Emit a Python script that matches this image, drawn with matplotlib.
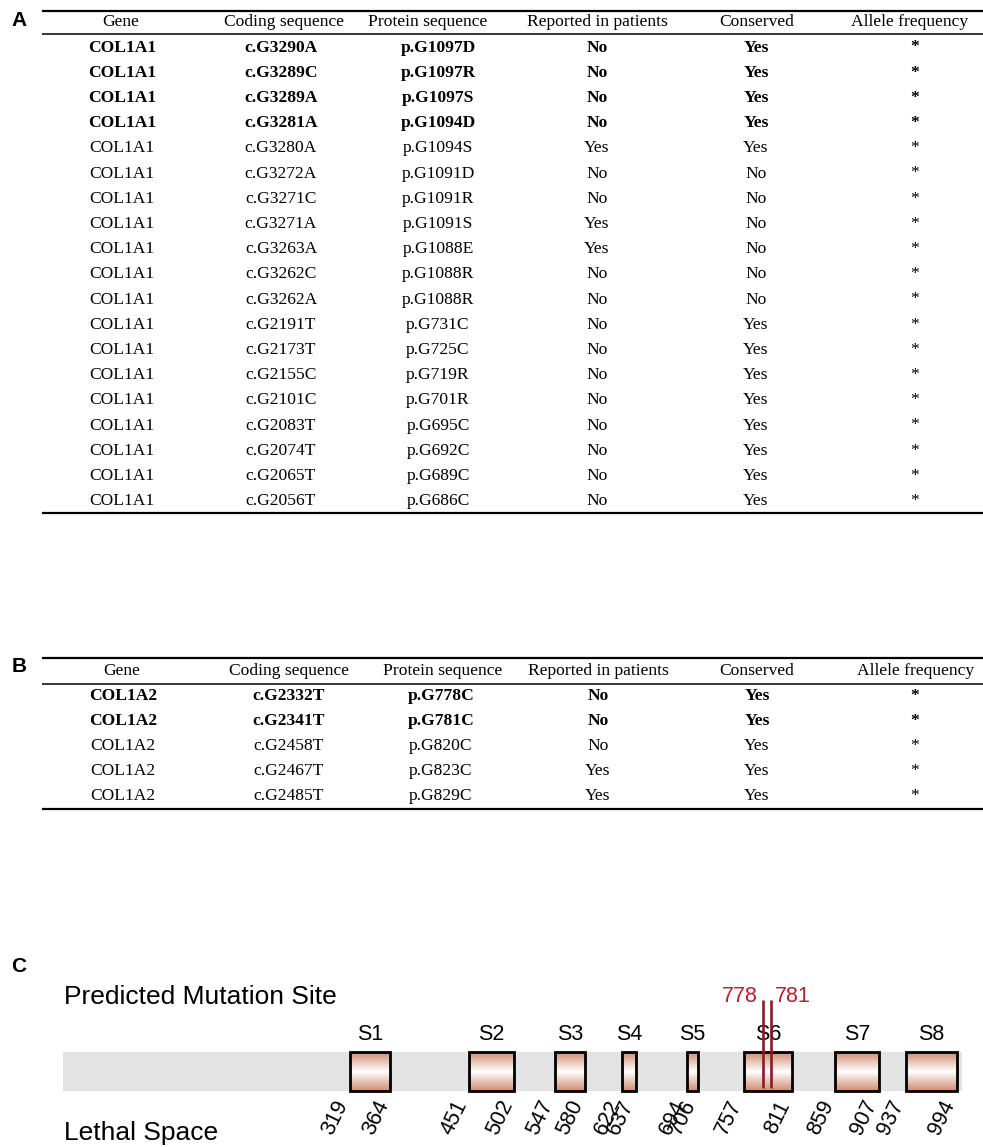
import numpy as np
import matplotlib
matplotlib.use("Agg")
import matplotlib.pyplot as plt
from matplotlib.patches import Rectangle

# ---- data ----
headers = ['Gene', 'Coding sequence', 'Protein sequence', 'Reported in patients', 'Conserved', 'Allele frequency']

gene_a = ['COL1A1'] * 19
coding_a = ['c.G3290A', 'c.G3289C', 'c.G3289A', 'c.G3281A', 'c.G3280A', 'c.G3272A', 'c.G3271C',
            'c.G3271A', 'c.G3263A', 'c.G3262C', 'c.G3262A', 'c.G2191T', 'c.G2173T', 'c.G2155C',
            'c.G2101C', 'c.G2083T', 'c.G2074T', 'c.G2065T', 'c.G2056T']
protein_a = ['p.G1097D', 'p.G1097R', 'p.G1097S', 'p.G1094D', 'p.G1094S', 'p.G1091D', 'p.G1091R',
             'p.G1091S', 'p.G1088E', 'p.G1088R', 'p.G1088R', 'p.G731C', 'p.G725C', 'p.G719R',
             'p.G701R', 'p.G695C', 'p.G692C', 'p.G689C', 'p.G686C']
reported_a = ['No', 'No', 'No', 'No', 'Yes', 'No', 'No', 'Yes', 'Yes', 'No', 'No',
              'No', 'No', 'No', 'No', 'No', 'No', 'No', 'No']
conserved_a = ['Yes', 'Yes', 'Yes', 'Yes', 'Yes', 'No', 'No', 'No', 'No', 'No', 'No',
               'Yes', 'Yes', 'Yes', 'Yes', 'Yes', 'Yes', 'Yes', 'Yes']
allele_a = ['*'] * 19
bold_a = 4

gene_b = ['COL1A2'] * 5
coding_b = ['c.G2332T', 'c.G2341T', 'c.G2458T', 'c.G2467T', 'c.G2485T']
protein_b = ['p.G778C', 'p.G781C', 'p.G820C', 'p.G823C', 'p.G829C']
reported_b = ['No', 'No', 'No', 'Yes', 'Yes']
conserved_b = ['Yes', 'Yes', 'Yes', 'Yes', 'Yes']
allele_b = ['*'] * 5
bold_b = 2

seg_names = ['S1', 'S2', 'S3', 'S4', 'S5', 'S6', 'S7', 'S8']
seg_start = [319, 451, 547, 622, 694, 757, 859, 937]
seg_end = [364, 502, 580, 637, 706, 811, 907, 994]
mutations = [778, 781]
track_len = 1000

# ---- figure ----
W, H = 983, 1147
fig = plt.figure(figsize=(W / 100, H / 100), dpi=100)
ax = fig.add_axes([0, 0, 1, 1])
ax.set_xlim(0, W)
ax.set_ylim(H, 0)
ax.axis('off')

serif = 'Liberation Serif'
sans = 'Liberation Sans'
fs = 12.6


def draw_table(cols, head_x, row_x, y_top, y_head, y_rule, row_y0, dy, n_bold, y_bottom):
    ax.plot([42, W], [y_top, y_top], color='black', lw=1.6, solid_capstyle='butt')
    ax.plot([42, W], [y_rule, y_rule], color='black', lw=1.1, solid_capstyle='butt')
    ax.plot([42, W], [y_bottom, y_bottom], color='black', lw=1.6, solid_capstyle='butt')
    for h, x in zip(headers, head_x):
        ax.text(x, y_head, h, ha='center', va='center', fontsize=fs, family=serif)
    for j, col in enumerate(cols):
        for i, val in enumerate(col):
            ax.text(row_x[j], row_y0 + i * dy, val, ha='center', va='center', fontsize=fs,
                    family=serif, fontweight='bold' if i < n_bold else 'normal')


draw_table([gene_a, coding_a, protein_a, reported_a, conserved_a, allele_a],
           [121, 284, 428, 597, 757, 910], [122, 281, 438, 597, 756, 915],
           11, 22, 34, 47.5, 25.2, bold_a, 513)
draw_table([gene_b, coding_b, protein_b, reported_b, conserved_b, allele_b],
           [122, 289, 443, 598, 757, 916], [123, 289, 441, 598, 757, 915],
           658, 671, 684, 696, 25.0, bold_b, 809)

for lab, y in [('A', 20), ('B', 667), ('C', 966)]:
    ax.text(19, y, lab, ha='center', va='center', fontsize=15, fontweight='bold', family=sans)

ax.text(64, 997, 'Predicted Mutation Site', ha='left', va='center', fontsize=19, family=sans)
ax.text(64, 1133, 'Lethal Space', ha='left', va='center', fontsize=19, family=sans)

# ---- panel C track ----
axc = fig.add_axes([63.2 / W, 0, 899 / W, 1])
axc.set_xlim(0, track_len)
axc.set_ylim(H, 0)
axc.axis('off')

y0, y1 = 1052, 1091
axc.add_patch(Rectangle((0, y0), track_len, y1 - y0, facecolor='#e3e3e3', edgecolor='none'))

edge_col = np.array([208, 140, 114]) / 255
t = np.abs(np.linspace(-1, 1, 64))
grad = 1 - t[:, None] * (1 - edge_col[None, :])
grad = grad[:, None, :]

for name, s, e in zip(seg_names, seg_start, seg_end):
    axc.imshow(grad, extent=(s, e, y1, y0), aspect='auto', zorder=2, interpolation='bilinear')
    axc.add_patch(Rectangle((s, y0), e - s, y1 - y0, facecolor='none', edgecolor='black',
                            lw=2.0, zorder=3))
    axc.text((s + e) / 2, 1034, name, ha='center', va='center', fontsize=15.5, family=sans)
    for v in (s, e):
        axc.text(v + 3, 1097, str(v), ha='right', va='top', rotation=64, fontsize=15.5,
                 family=sans)

gap = 6
for i, m in enumerate(mutations):
    xm = m + i * gap
    axc.plot([xm, xm], [1000, 1088], color='#861c26', lw=1.9, zorder=4, solid_capstyle='butt')
    if i == 0:
        axc.text(xm - 5, 997, str(m), ha='right', va='center', fontsize=15.5, color='#b3202c',
                 family=sans)
    else:
        axc.text(xm + 5, 997, str(m), ha='left', va='center', fontsize=15.5, color='#b3202c',
                 family=sans)

axc.set_xlim(0, track_len)
axc.set_ylim(H, 0)

fig.savefig('out.png', dpi=100)
